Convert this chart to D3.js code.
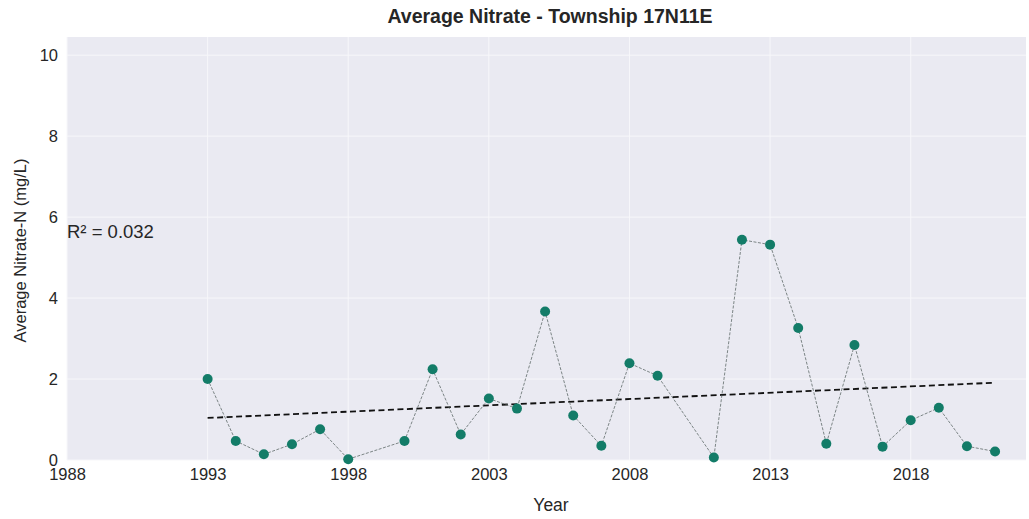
<!DOCTYPE html>
<html>
<head>
<meta charset="utf-8">
<script src="https://cdn.jsdelivr.net/npm/d3@7"></script>
<style>
  body { margin: 0; background: #fff; }
  text { font-family: "Liberation Sans", Arial, sans-serif; fill: #262626; }
</style>
</head>
<body>
<div id="chart"></div>
<script>
// chart data
var years = [1993, 1994, 1995, 1996, 1997, 1998, 2000, 2001, 2002, 2003, 2004, 2005, 2006, 2007,
  2008, 2009, 2011, 2012, 2013, 2014, 2015, 2016, 2017, 2018, 2019, 2020, 2021];
var nitrate = [2.0, 0.47, 0.14, 0.39, 0.76, 0.02, 0.47, 2.24, 0.63, 1.52, 1.27, 3.67, 1.10, 0.35,
  2.39, 2.08, 0.06, 5.44, 5.32, 3.26, 0.40, 2.84, 0.33, 0.98, 1.29, 0.34, 0.21];
var xTicks = [1988, 1993, 1998, 2003, 2008, 2013, 2018];
var yTicks = [0, 2, 4, 6, 8, 10];
var rSquared = "R² = 0.032";

var svgWidth = 1029;
var svgHeight = 519;
var margin = { top: 37, right: 3, bottom: 59, left: 67 };
var width = svgWidth - margin.left - margin.right;
var height = svgHeight - margin.top - margin.bottom;

var svg = d3.select("#chart").append("svg")
  .attr("width", svgWidth)
  .attr("height", svgHeight);

var chartGroup = svg.append("g")
  .attr("transform", `translate(${margin.left}, ${margin.top})`);

var xScale = d3.scaleLinear().domain([1988, 2022.1]).range([0, width]);
var yScale = d3.scaleLinear().domain([0, 10.45]).range([height, 0]);

// background
chartGroup.append("rect")
  .attr("width", width)
  .attr("height", height)
  .attr("fill", "#eaeaf2");

// grid
chartGroup.selectAll(".hgrid").data(yTicks).enter().append("line")
  .attr("x1", 0).attr("x2", width)
  .attr("y1", d => yScale(d)).attr("y2", d => yScale(d))
  .attr("stroke", "#f7f7fa").attr("stroke-width", 1);
chartGroup.selectAll(".vgrid").data(xTicks).enter().append("line")
  .attr("y1", 0).attr("y2", height)
  .attr("x1", d => xScale(d)).attr("x2", d => xScale(d))
  .attr("stroke", "#f7f7fa").attr("stroke-width", 1);

// axes (labels only, no lines)
var bottomAxis = d3.axisBottom(xScale).tickValues(xTicks).tickFormat(d3.format("d")).tickSize(0).tickPadding(8);
var leftAxis = d3.axisLeft(yScale).tickValues(yTicks).tickSize(0).tickPadding(9);

var xg = chartGroup.append("g").attr("transform", `translate(0, ${height})`).call(bottomAxis);
var yg = chartGroup.append("g").call(leftAxis);
[xg, yg].forEach(function(g) {
  g.select(".domain").remove();
  g.selectAll("text").attr("font-size", 16.5).attr("fill", "#262626")
    .attr("font-family", "'Liberation Sans', Arial, sans-serif");
});
yg.selectAll("text").attr("dy", "0.32em");

// regression trend line
var xMean = d3.mean(years);
var yMean = d3.mean(nitrate);
var slope = d3.sum(years, (d, i) => (d - xMean) * (nitrate[i] - yMean)) /
  d3.sum(years, d => (d - xMean) * (d - xMean));
var intercept = yMean - slope * xMean;
var trendYears = d3.extent(years);

chartGroup.append("line")
  .attr("x1", xScale(trendYears[0])).attr("y1", yScale(intercept + slope * trendYears[0]))
  .attr("x2", xScale(trendYears[1])).attr("y2", yScale(intercept + slope * trendYears[1]))
  .attr("stroke", "#111").attr("stroke-width", 1.8)
  .attr("stroke-dasharray", "6,3.5");

// data line
var line = d3.line().x((d, i) => xScale(years[i])).y(d => yScale(d));
chartGroup.append("path")
  .datum(nitrate)
  .attr("d", line)
  .attr("fill", "none")
  .attr("stroke", "#5f6b6a")
  .attr("stroke-width", 0.8)
  .attr("stroke-dasharray", "3,1.5");

chartGroup.selectAll("circle").data(nitrate).enter().append("circle")
  .attr("cx", (d, i) => xScale(years[i]))
  .attr("cy", d => yScale(d))
  .attr("r", 5)
  .attr("fill", "#137c68");

// R² annotation
chartGroup.append("text")
  .attr("x", 0)
  .attr("y", 201)
  .attr("font-size", 18.5)
  .text(rSquared);

// title and axis labels
svg.append("text")
  .attr("x", 550)
  .attr("y", 23)
  .attr("text-anchor", "middle")
  .attr("font-size", 19.5)
  .attr("font-weight", "bold")
  .text("Average Nitrate - Township 17N11E");

svg.append("text")
  .attr("x", 551)
  .attr("y", 511)
  .attr("text-anchor", "middle")
  .attr("font-size", 17.5)
  .text("Year");

svg.append("text")
  .attr("transform", "rotate(-90)")
  .attr("x", -(margin.top + height / 2) - 2)
  .attr("y", 26)
  .attr("text-anchor", "middle")
  .attr("font-size", 16.5)
  .text("Average Nitrate-N (mg/L)");
</script>
</body>
</html>
